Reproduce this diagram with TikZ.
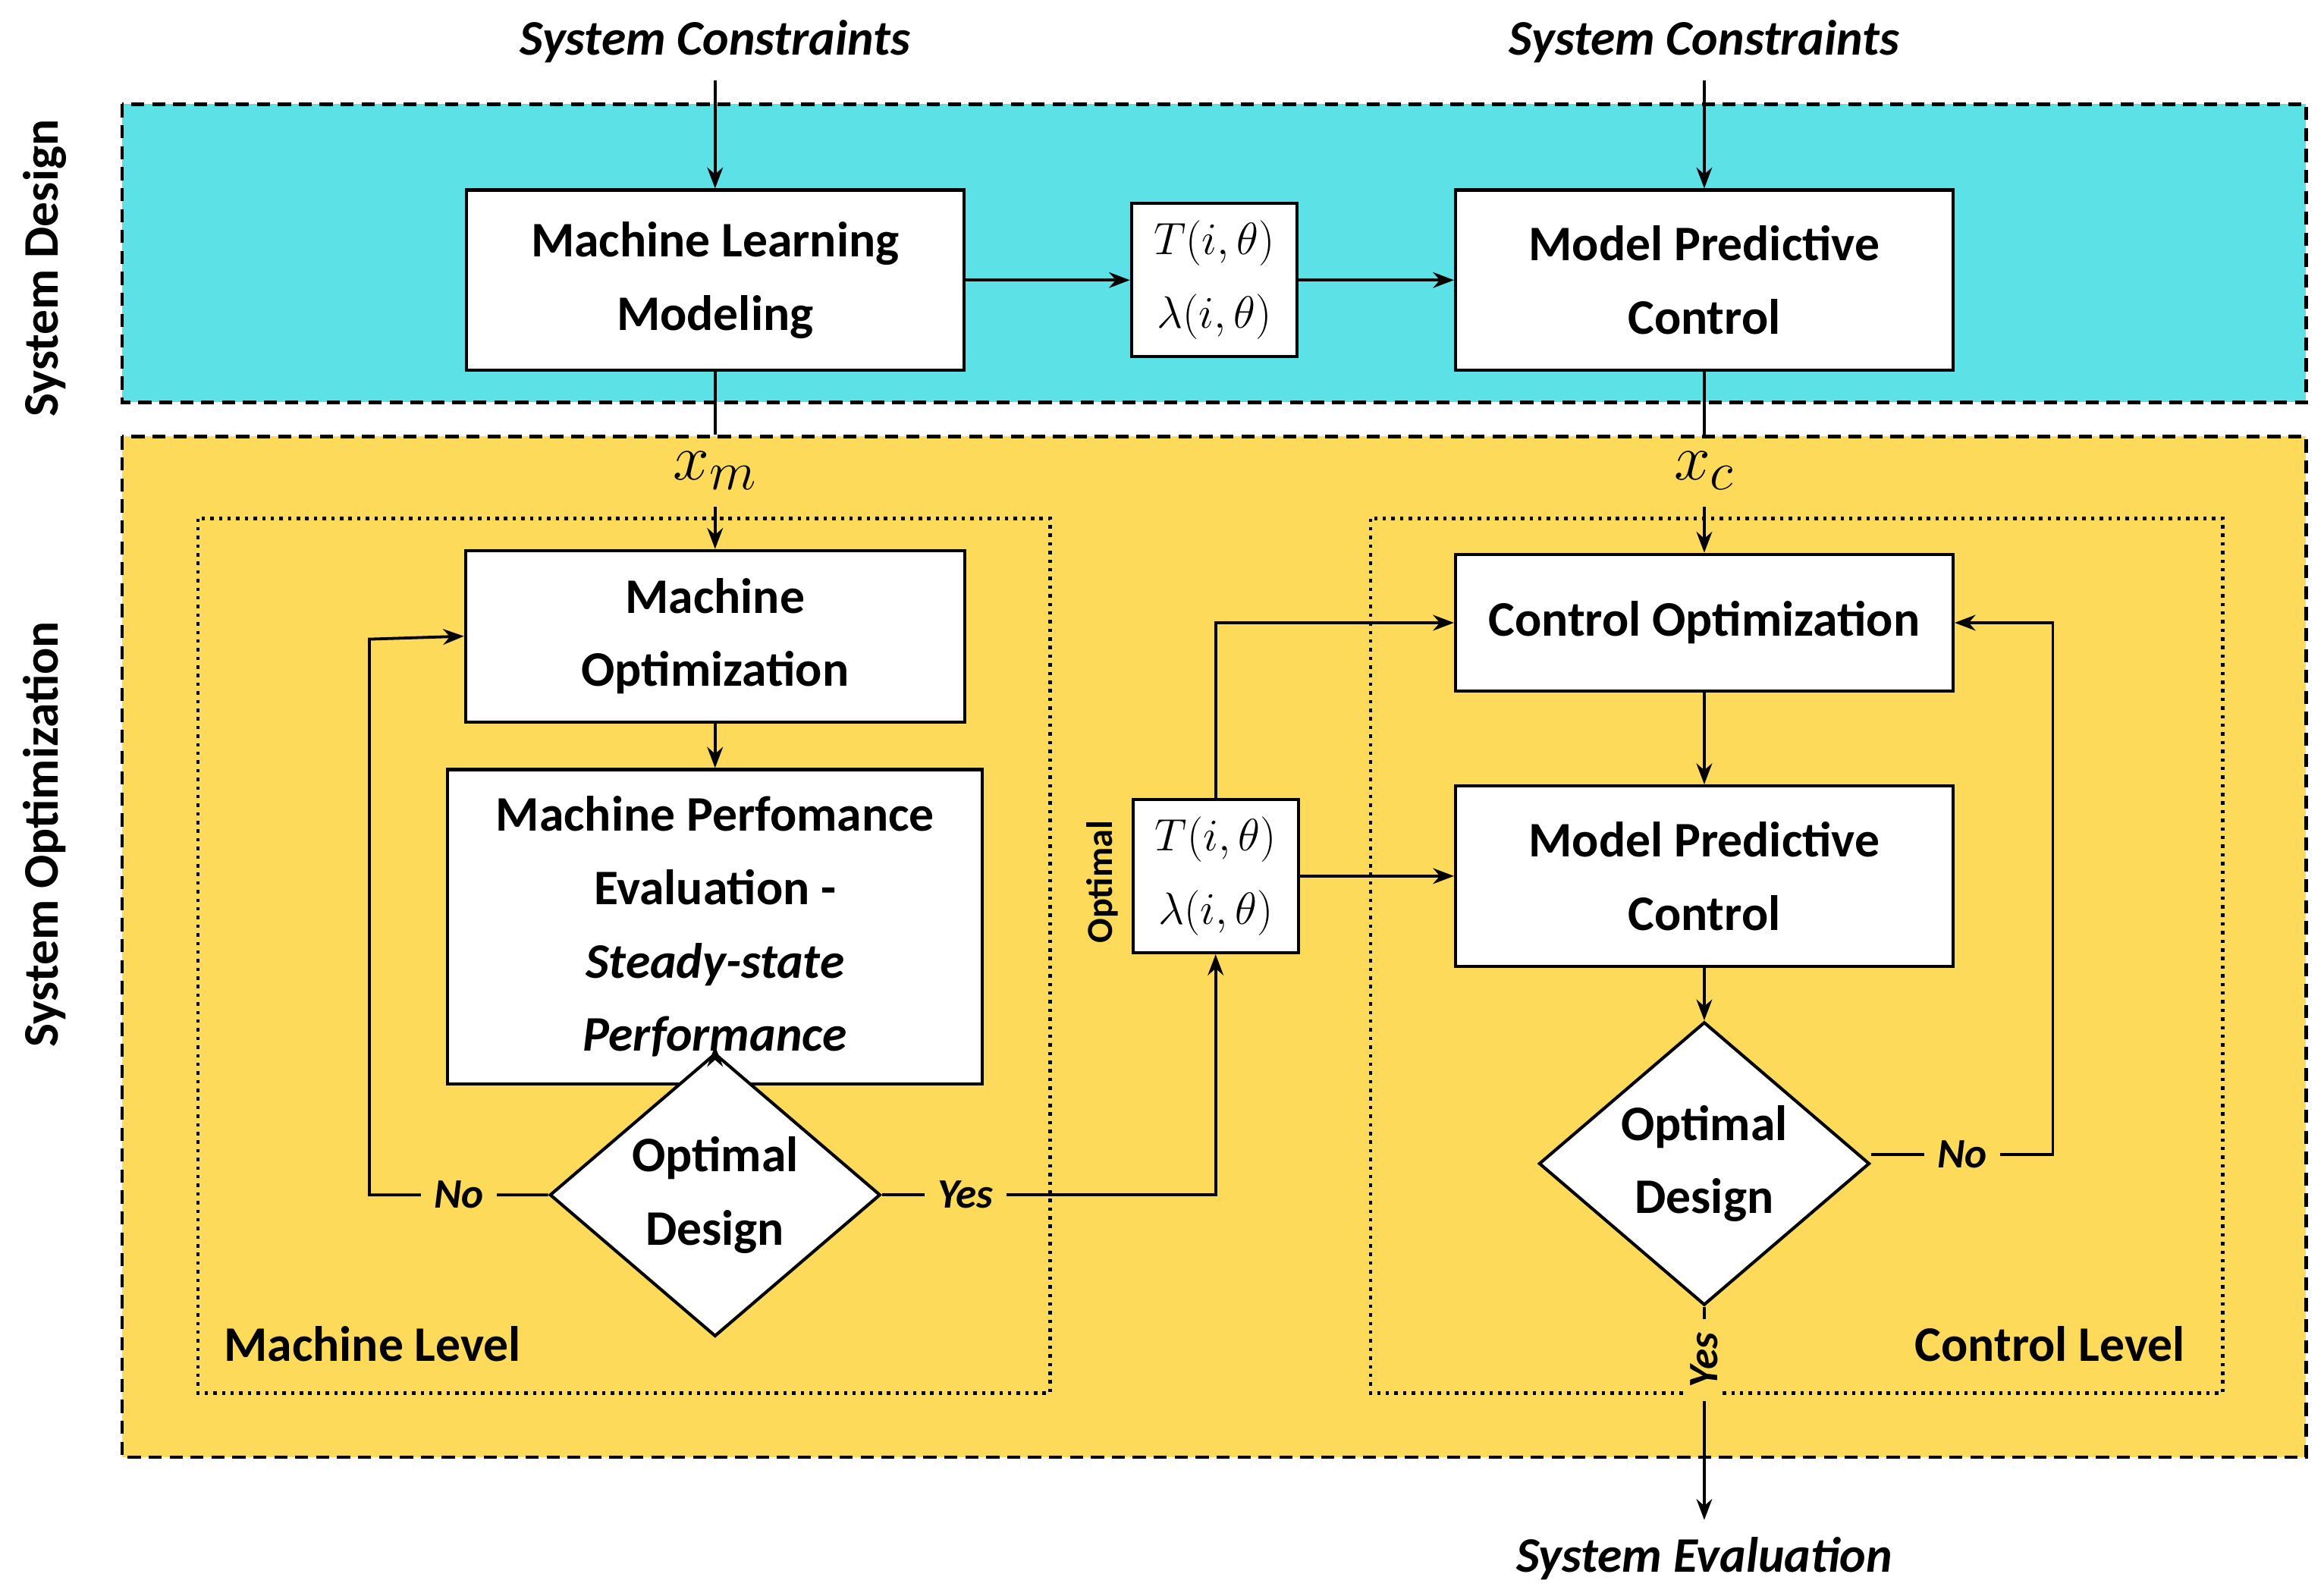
\documentclass[tikz,border=0pt]{standalone}
\usepackage{fontspec}
\setmainfont{Carlito}
\usetikzlibrary{shapes.geometric,arrows.meta}
\definecolor{designcyan}{HTML}{5CE1E6}
\definecolor{optyellow}{HTML}{FDDA5A}
\tikzset{
  blk/.style={draw,thick,fill=white,line width=1.2pt,align=center,font=\bfseries,inner sep=2pt},
  par/.style={draw,line width=1.2pt,fill=white,align=center,inner sep=1pt},
  dec/.style={draw,diamond,line width=1.2pt,fill=white,align=center,font=\bfseries,inner sep=0pt,minimum width=4.44cm,minimum height=3.5cm},
  lbl/.style={font=\bfseries\itshape},
  yn/.style={fill=optyellow,font=\bfseries\itshape\fontsize{16}{16}\selectfont,inner xsep=5pt,inner ysep=1pt},
  flow/.style={line width=1.1pt,-{Stealth[length=8pt,width=6pt]}},
  lne/.style={line width=1.1pt}
}
\begin{document}
\fontsize{19}{28}\selectfont
\begin{tikzpicture}[x=0.02cm,y=-0.02cm]
\useasboundingbox (0,0) rectangle (1560,1071);
% regions
\draw[dash pattern=on 5pt off 3pt,line width=1.3pt,fill=designcyan] (82,70) rectangle (1548,270);
\draw[dash pattern=on 5pt off 3pt,line width=1.3pt,fill=optyellow] (82,293) rectangle (1548,978);
\draw[dotted,line width=1.3pt] (133,348) rectangle (705,935);
\draw[dotted,line width=1.3pt] (920,348) rectangle (1492,935);
\node[rotate=90,font=\bfseries] (sd) at (30,180) {System Design};
\node[rotate=90,font=\bfseries] (so) at (30,560) {System Optimization};
\node[font=\bfseries] (mlev) at (250,902) {Machine Level};
\node[font=\bfseries] (clev) at (1376,902) {Control Level};
% system design
\node[lbl] (sc1) at (480,28) {System Constraints};
\node[lbl] (sc2) at (1144,28) {System Constraints};
\node[blk,minimum width=6.68cm,minimum height=2.42cm] (ml) at (480,188) {Machine Learning\\Modeling};
\node[par,minimum width=2.22cm,minimum height=2.06cm] (par1) at (815,188) {$T(i,\theta)$\\$\lambda(i,\theta)$};
\node[blk,minimum width=6.68cm,minimum height=2.42cm] (mpc1) at (1144,188) {Model Predictive\\Control};
\draw[flow] (sc1) -- (ml);
\draw[flow] (sc2) -- (mpc1);
\draw[flow] (ml) -- (par1);
\draw[flow] (par1) -- (mpc1);
% machine level
\node[font=\fontsize{30}{30}\selectfont] (xm) at (480,316) {$x_m$};
\node[font=\fontsize{30}{30}\selectfont] (xc) at (1144,316) {$x_c$};
\node[blk,minimum width=6.7cm,minimum height=2.3cm] (mopt) at (480,427) {Machine\\Optimization};
\node[blk,minimum width=7.18cm,minimum height=4.22cm] (mperf) at (480,622) {Machine Perfomance\\Evaluation -\\\textit{Steady-state}\\\textit{Performance}};
\node[dec] (mdec) at (480,802) {Optimal\\Design};
\draw[lne] (ml.south) -- (xm.north);
\draw[flow] (xm.south) -- (mopt.north);
\draw[flow] (mopt) -- (mperf);
\draw[flow] (mdec.north) -- ++(0,-4);
\coordinate (mno) at (248,802);
\draw[flow] (mdec.west) -- node[yn,pos=0.5] {No} (mno) -- (248,429) -- (mopt.west);
% control level
\node[par,minimum width=2.22cm,minimum height=2.06cm] (par2) at (816,588) {$T(i,\theta)$\\$\lambda(i,\theta)$};
\node[rotate=90,font=\bfseries\fontsize{14}{14}\selectfont] (optl) at (740,592) {Optimal};
\node[blk,minimum width=6.68cm,minimum height=1.84cm] (copt) at (1144,418) {Control Optimization};
\node[blk,minimum width=6.68cm,minimum height=2.42cm] (mpc2) at (1144,588) {Model Predictive\\Control};
\node[dec] (cdec) at (1144,781) {Optimal\\Design};
\draw[flow] (mdec.east) -- node[yn,pos=0.25] {Yes} (par2.south |- mdec.east) -- (par2.south);
\draw[flow] (par2.north) |- (copt.west);
\draw[flow] (par2) -- (mpc2);
\draw[lne] (mpc1.south) -- (xc.north);
\draw[flow] (xc.south) -- (copt.north);
\draw[flow] (copt) -- (mpc2);
\draw[flow] (mpc2) -- (cdec);
\coordinate (cno) at (1378,775);
\draw[flow] (cdec.east |- cno) -- node[yn,pos=0.5] {No} (cno) |- (copt.east);
\node[lbl] (seval) at (1144,1046) {System Evaluation};
\draw[flow] (cdec.south) -- node[yn,rotate=90,pos=0.25] {Yes} (seval.north);
\end{tikzpicture}
\end{document}
